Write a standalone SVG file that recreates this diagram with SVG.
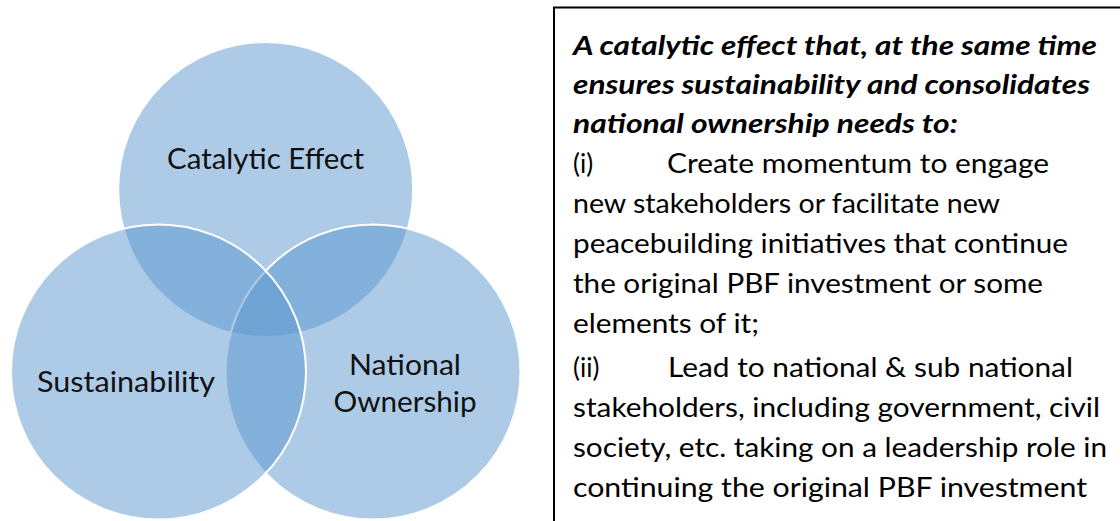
<svg xmlns="http://www.w3.org/2000/svg" width="1120" height="521" viewBox="0 0 1120 521">
  <style>
    .set { fill: #5b97cf; fill-opacity: 0.5; stroke: #ffffff; stroke-width: 2; }
    .lbl { font-family: Lato, "Open Sans", "Liberation Sans", sans-serif; font-size: 29px; fill: #111111; text-anchor: middle; }
    .txt { font-family: Lato, "Open Sans", "Liberation Sans", sans-serif; font-size: 26px; fill: #000000; }
    .head { font-weight: bold; font-style: italic; }
  </style>
  <rect width="1120" height="521" fill="#ffffff"/>

  <!-- three overlapping sets; drawing order gives the white outlines -->
  <g id="node-catalytic">
    <circle class="set" cx="265.7" cy="189.5" r="147.5"/>
  </g>
  <g id="node-ownership">
    <circle class="set" cx="373" cy="372" r="147.5"/>
  </g>
  <g id="node-sustainability">
    <circle class="set" cx="158.5" cy="372" r="147.5"/>
  </g>

  <g id="labels">
    <text class="lbl" x="265.5" y="169" textLength="197" lengthAdjust="spacingAndGlyphs">Catalytic Effect</text>
    <text class="lbl" x="126" y="392" textLength="178" lengthAdjust="spacingAndGlyphs">Sustainability</text>
    <text class="lbl" x="405" y="375" textLength="112" lengthAdjust="spacingAndGlyphs">National</text>
    <text class="lbl" x="405" y="412" textLength="143" lengthAdjust="spacingAndGlyphs">Ownership</text>
  </g>

  <g id="connectors"></g>

  <!-- text panel -->
  <g id="node-panel">
    <rect x="554" y="7.5" width="600" height="560" fill="none" stroke="#000000" stroke-width="2"/>
    <text class="txt head" x="573" y="55" textLength="524" lengthAdjust="spacingAndGlyphs">A catalytic effect that, at the same time</text>
    <text class="txt head" x="573" y="94" textLength="517" lengthAdjust="spacingAndGlyphs">ensures sustainability and consolidates</text>
    <text class="txt head" x="573" y="133" textLength="385" lengthAdjust="spacingAndGlyphs">national ownership needs to:</text>
    <text class="txt" x="573" y="173">(i)</text>
    <text class="txt" x="667" y="173" textLength="382" lengthAdjust="spacingAndGlyphs">Create momentum to engage</text>
    <text class="txt" x="573" y="213" textLength="427" lengthAdjust="spacingAndGlyphs">new stakeholders or facilitate new</text>
    <text class="txt" x="573" y="253" textLength="495" lengthAdjust="spacingAndGlyphs">peacebuilding initiatives that continue</text>
    <text class="txt" x="573" y="293" textLength="470" lengthAdjust="spacingAndGlyphs">the original PBF investment or some</text>
    <text class="txt" x="573" y="333" textLength="186" lengthAdjust="spacingAndGlyphs">elements of it;</text>
    <text class="txt" x="573" y="377">(ii)</text>
    <text class="txt" x="668" y="377" textLength="405" lengthAdjust="spacingAndGlyphs">Lead to national &amp; sub national</text>
    <text class="txt" x="573" y="417" textLength="527" lengthAdjust="spacingAndGlyphs">stakeholders, including government, civil</text>
    <text class="txt" x="573" y="457" textLength="534" lengthAdjust="spacingAndGlyphs">society, etc. taking on a leadership role in</text>
    <text class="txt" x="573" y="497" textLength="514" lengthAdjust="spacingAndGlyphs">continuing the original PBF investment</text>
  </g>
</svg>
